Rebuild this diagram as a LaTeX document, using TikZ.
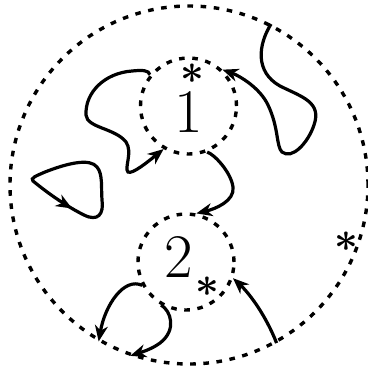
\documentclass[tikz,border=0pt]{standalone}
\usepackage{amsmath,amssymb}
\usepackage{tikz}
\usetikzlibrary{arrows.meta,decorations.markings}

\begin{document}
\begin{tikzpicture}[x=0.5pt,y=-0.5pt,
  ring/.style={circle,draw,inner sep=0pt,line width=1.7pt,dash pattern=on 2.8pt off 3.8pt},
  flow/.style={line width=1.6pt,-{Stealth[length=8pt,width=6.5pt,inset=2.5pt]}},
  midtip/.style={line width=1.6pt,decoration={markings,mark=at position 0.24 with {\arrow{Stealth[length=8pt,width=6.5pt,inset=2.5pt]}}},postaction={decorate}},
  big/.style={font=\fontsize{31}{31}\selectfont,inner sep=0pt},
  star/.style={font=\fontsize{20.74}{20.74}\selectfont,inner sep=0pt}]
  \useasboundingbox (0,0) rectangle (368,371);
  \node[ring,minimum size=179pt] (outer) at (189,185) {};
  \node[ring,minimum size=48pt] (one) at (188.5,106) {};
  \node[ring,minimum size=48pt] (two) at (186,262) {};
  \node[big] (lab1) at (189,112) {1};
  \node[big] (lab2) at (179,257) {2};
  \node[star] (star1) at (192,74) {$\boldsymbol{\ast}$};
  \node[star] (star2) at (207,287) {$\boldsymbol{\ast}$};
  \node[star] (star3) at (346,242) {$\boldsymbol{\ast}$};
  % wandering paths
  \draw[flow] (one.141.5) .. controls (149,70) and (142,70) .. (132,71)
    .. controls (105,73) and (85,92) .. (86,115)
    .. controls (87,128) and (115,128) .. (126,142)
    .. controls (133,152) and (124,168) .. (128,172)
    .. controls (132,175) and (150,160) .. (one.240);
  \draw[midtip] (33,181) .. controls (50,195) and (68,207) .. (84,215)
    .. controls (98,222) and (104,214) .. (102,200)
    .. controls (101,188) and (103,174) .. (97,167)
    .. controls (90,158) and (68,163) .. (45,172)
    .. controls (36,176) and (30,178) .. cycle;
  \draw[flow] (one.292) .. controls (214,154) and (231,172) .. (233,187)
    .. controls (235,201) and (215,209) .. (two.78);
  \draw[flow] (outer.63.4) .. controls (258,45) and (255,72) .. (280,86)
    .. controls (302,97) and (322,102) .. (314,125)
    .. controls (308,143) and (292,160) .. (282,152)
    .. controls (276,146) and (279,128) .. (268,105)
    .. controls (260,88) and (240,76) .. (one.47);
  \draw[flow] (two.208) .. controls (124,277) and (105,305) .. (outer.240);
  \draw[flow] (two.240.7) .. controls (171,311) and (177,330) .. (160,343)
    .. controls (152,349) and (142,352) .. (outer.251.5);
  \draw[flow] (outer.299.8) .. controls (266,316) and (250,294) .. (two.341);
\end{tikzpicture}
\end{document}
